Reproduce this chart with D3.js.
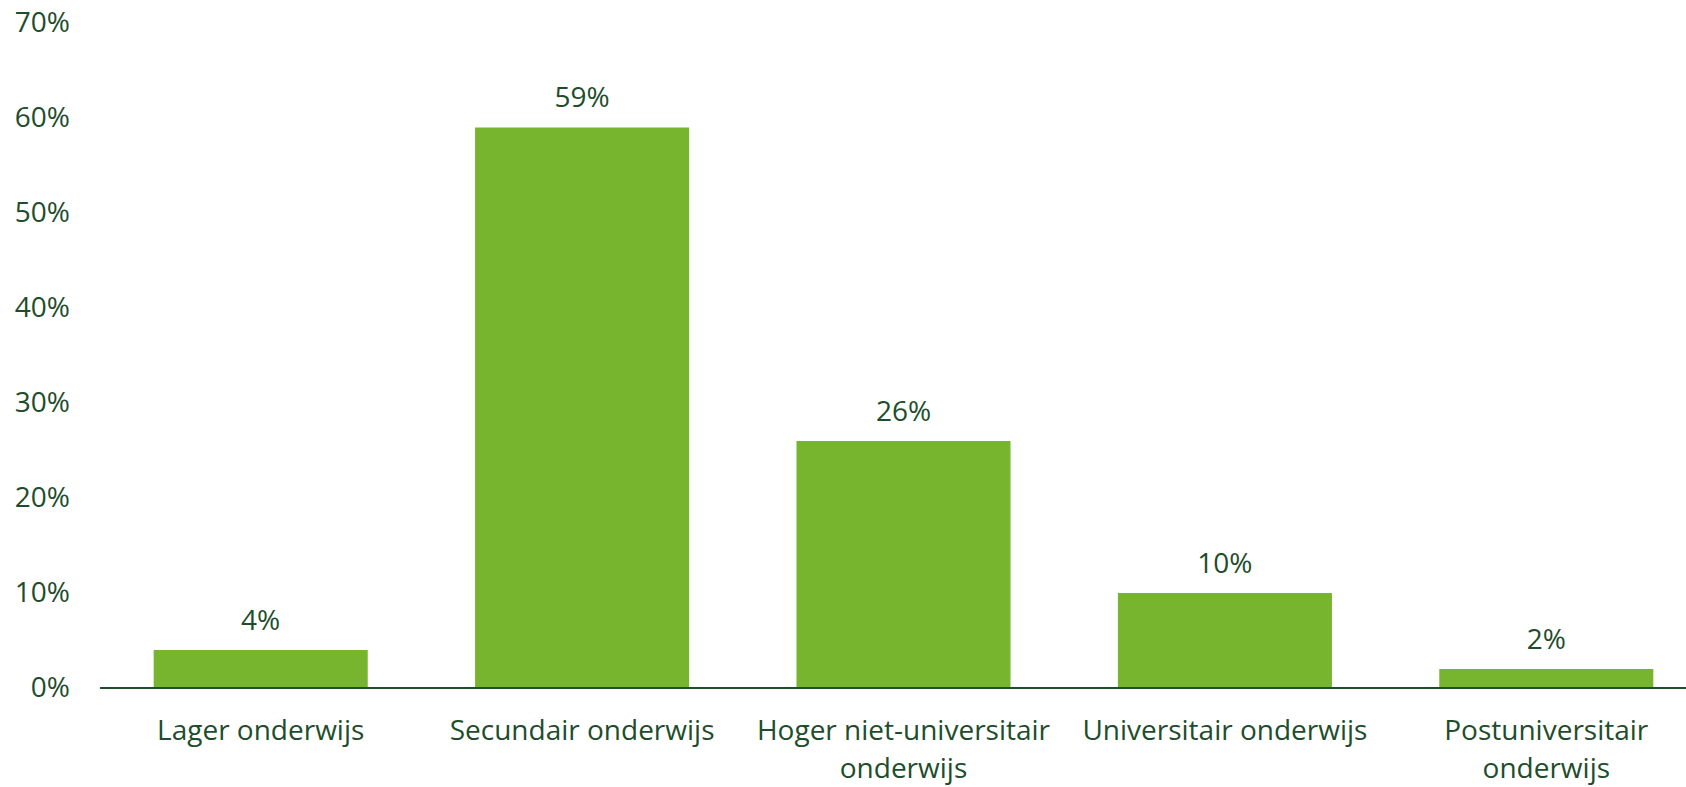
<!DOCTYPE html>
<html><head><meta charset="utf-8">
<script src="https://cdn.jsdelivr.net/npm/d3@7"></script>
<style>body{margin:0;background:#fff}svg{display:block}</style>
</head><body><svg id="c" width="1686" height="787"></svg>
<script>
const categories = [["Lager onderwijs"],["Secundair onderwijs"],["Hoger niet-universitair","onderwijs"],["Universitair onderwijs"],["Postuniversitair","onderwijs"]];
const values = [4, 59, 26, 10, 2];
const yTicks = [0,10,20,30,40,50,60,70];

const textColor = "#1E4D2B", barColor = "#77B52E", font = "'Open Sans', sans-serif", fs = "28px";
const svg = d3.select("#c");
const x = d3.scaleBand().domain(d3.range(categories.length)).range([100, 1707]).paddingInner(0.334).paddingOuter(0.167);
const y = d3.scaleLinear().domain([0,70]).range([688, 23]);

svg.append("g").selectAll("rect").data(values).join("rect")
  .attr("x",(d,i)=>x(i)).attr("width",x.bandwidth())
  .attr("y",d=>y(d)).attr("height",d=>y(0)-y(d)).attr("fill",barColor);

svg.append("line").attr("x1",100).attr("x2",1686).attr("y1",y(0)).attr("y2",y(0))
  .attr("stroke",textColor).attr("stroke-width",2);

const yAxis = d3.axisLeft(y).tickValues(yTicks).tickFormat(d=>d+"%").tickSize(0).tickPadding(0);
const ga = svg.append("g").attr("transform","translate(70,0)").call(yAxis);
ga.select(".domain").remove();
ga.selectAll("text").attr("fill",textColor).style("font-family",font).style("font-size",fs);

svg.append("g").selectAll("text").data(values).join("text")
  .attr("x",(d,i)=>x(i)+x.bandwidth()/2).attr("y",d=>y(d)-30).attr("dy","0.35em")
  .attr("text-anchor","middle").attr("fill",textColor).style("font-family",font).style("font-size",fs)
  .text(d=>d+"%");

const cl = svg.append("g").selectAll("text").data(categories).join("text")
  .attr("text-anchor","middle").attr("fill",textColor).style("font-family",font).style("font-size",fs);
cl.each(function(lines,i){
  d3.select(this).selectAll("tspan").data(lines).join("tspan")
    .attr("x",x(i)+x.bandwidth()/2).attr("y",(l,j)=>730+j*38).attr("dy","0.35em").text(l=>l);
});
</script></body></html>
